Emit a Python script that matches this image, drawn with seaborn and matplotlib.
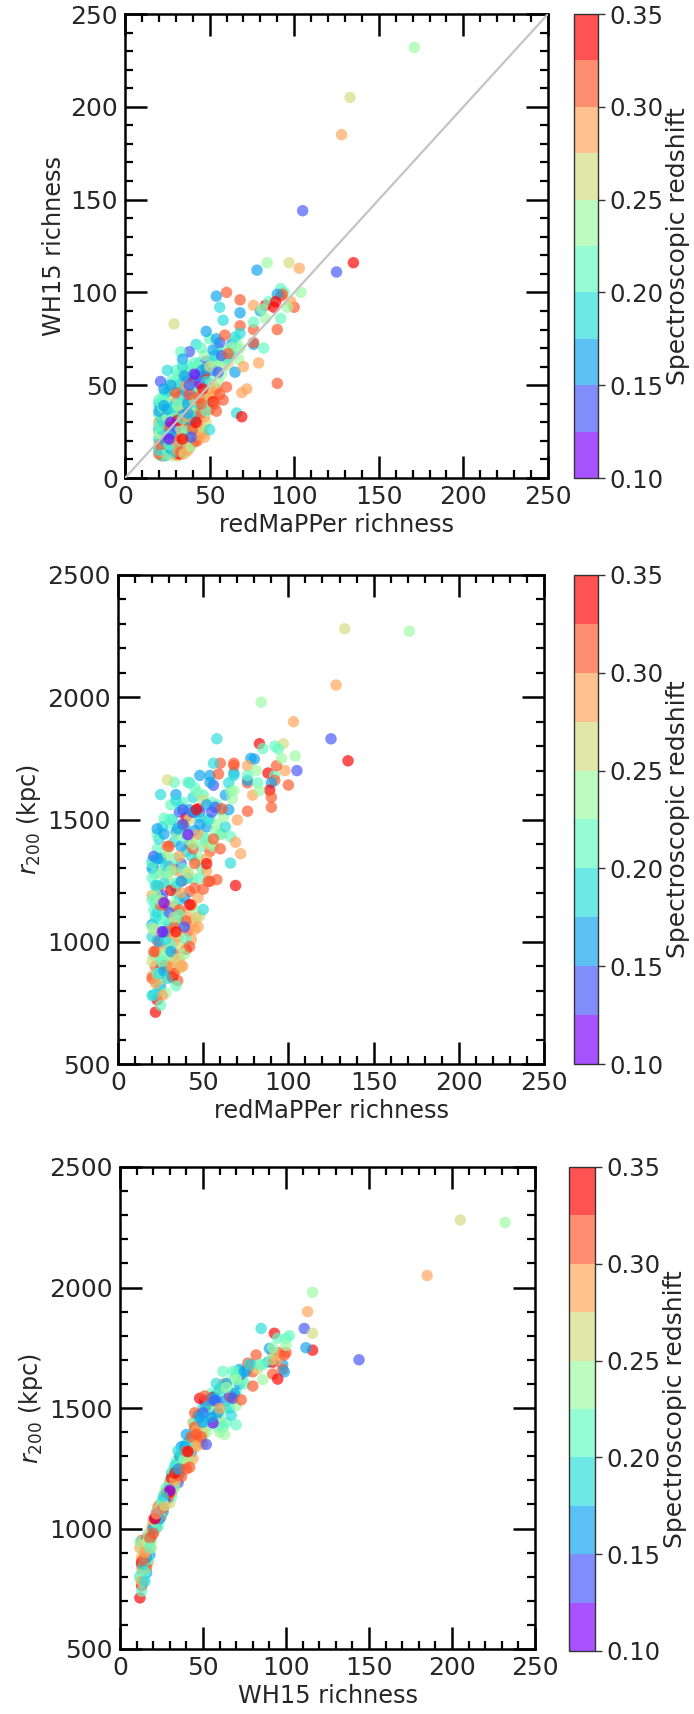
import matplotlib
matplotlib.use("Agg")
import matplotlib.pyplot as plt
import matplotlib.colors as mcolors
from matplotlib.cm import ScalarMappable
from matplotlib.ticker import MultipleLocator
import pandas as pd
import seaborn as sns

# values, one cluster per index
rm_rich = [
    22, 23, 21, 25, 20, 25, 23, 24, 26, 28,
    22, 30, 32, 35, 31, 24, 27, 34, 21, 36,
    40, 38, 20, 22, 29, 33, 37, 43, 28, 23,
    26, 31, 35, 41, 45, 46, 20, 24, 30, 37,
    27, 33, 20, 22, 25, 28, 34, 40, 44, 48,
    21, 24, 30, 36, 42, 47, 26, 20, 23, 29,
    33, 38, 44, 50, 21, 25, 30, 35, 40, 46,
    49, 20, 23, 28, 33, 37, 42, 47, 52, 24,
    29, 34, 39, 44, 49, 54, 27, 31, 36, 40,
    45, 50, 55, 31, 37, 42, 47, 52, 57, 38,
    44, 48, 54, 58, 61, 47, 55, 58, 63, 60,
    66, 42, 50, 56, 20, 22, 24, 26, 28, 30,
    32, 34, 36, 25, 27, 29, 31, 33, 35, 38,
    21, 23, 26, 28, 32, 36, 39, 20, 22, 24,
    27, 31, 34, 38, 41, 43,
    20, 23, 25, 27, 29, 31, 33, 35, 37, 39,
    21, 24, 26, 28, 30, 33, 36, 40, 42, 44,
    20, 22, 25, 27, 30, 33, 36, 40, 43, 46,
    20, 22, 25, 28, 31, 34, 37, 41, 45, 48,
    20, 22, 25, 28, 31, 34, 37, 41, 44, 47,
    20, 23, 26, 29, 32, 36, 40, 44, 48, 52,
    30, 35, 40, 44, 48, 52, 56, 60, 63, 66,
    42, 45, 50, 53, 57, 62, 38, 46, 52, 56,
    171, 133, 128, 105, 125, 135, 84, 97, 103, 78,
    54, 60, 68, 56, 68, 58, 48, 65, 68, 83,
    76, 80, 85, 92, 94, 88, 76, 81, 92, 92,
    100, 98, 93, 104, 90, 89, 90, 96, 76, 82,
    79, 72, 69, 66, 69, 60, 65, 61, 52, 45,
    38, 33, 34, 34, 25, 41, 55, 21, 38, 30,
    23, 45, 52, 54, 42, 27, 26, 37, 39, 34,
    47, 29, 41, 54, 59, 76, 68, 68, 67, 83,
    90, 76, 70, 23, 27, 35, 58, 53, 50,
]
wh_rich = [
    12, 13, 14, 16, 17, 18, 13, 12, 14, 12,
    15, 13, 15, 16, 12, 18, 14, 13, 12, 17,
    19, 16, 19, 16, 17, 19, 18, 20, 20, 22,
    23, 21, 23, 24, 25, 24, 21, 25, 24, 26,
    27, 28, 26, 29, 30, 31, 30, 28, 27, 30,
    31, 33, 33, 32, 34, 33, 35, 34, 36, 37,
    38, 36, 38, 37, 38, 40, 41, 40, 42, 41,
    42, 40, 43, 44, 45, 43, 46, 45, 44, 46,
    47, 48, 47, 49, 50, 48, 52, 53, 54, 52,
    55, 53, 52, 55, 57, 58, 56, 58, 56, 60,
    62, 63, 64, 60, 61, 66, 70, 68, 72, 65,
    74, 72, 75, 73, 13, 14, 15, 13, 15, 16,
    13, 15, 14, 20, 19, 22, 18, 24, 20, 22,
    24, 27, 29, 26, 27, 29, 31, 30, 33, 35,
    34, 36, 34, 39, 37, 40,
    15, 17, 13, 16, 14, 15, 14, 13, 15, 17,
    18, 20, 18, 22, 20, 22, 21, 23, 20, 23,
    24, 26, 28, 24, 27, 26, 25, 26, 29, 27,
    28, 31, 33, 34, 31, 32, 33, 33, 35, 36,
    36, 38, 37, 38, 39, 41, 40, 42, 43, 44,
    42, 45, 47, 49, 50, 50, 49, 51, 52, 50,
    58, 58, 59, 60, 59, 62, 63, 64, 67, 70,
    55, 58, 60, 66, 66, 70, 45, 48, 46, 45,
    232, 205, 185, 144, 111, 116, 116, 116, 113, 112,
    98, 100, 96, 92, 89, 85, 79, 76, 82, 93,
    80, 90, 95, 102, 100, 92, 93, 91, 86, 98,
    92, 95, 99, 100, 99, 95, 51, 92, 72, 70,
    62, 48, 46, 35, 33, 49, 57, 67, 69, 70,
    68, 68, 64, 60, 58, 56, 57, 52, 50, 46,
    39, 40, 41, 36, 30, 30, 21, 35, 22, 21,
    22, 83, 62, 75, 77, 84, 78, 70, 64, 86,
    80, 73, 60, 48, 50, 55, 42, 40, 26,
]
r200 = [
    712, 762, 783, 816, 860, 891, 830, 800, 850, 790,
    900, 880, 853, 841, 920, 940, 905, 950, 945, 930,
    969, 900, 920, 960, 975, 1000, 980, 1010, 1030, 1005,
    1060, 990, 1090, 1045, 1050, 1100, 1020, 1095, 1075, 1120,
    1130, 1145, 1070, 1160, 1180, 1150, 1200, 1110, 1140, 1105,
    1130, 1225, 1240, 1170, 1205, 1180, 1190, 1260, 1230, 1270,
    1295, 1250, 1260, 1215, 1305, 1340, 1310, 1290, 1370, 1330,
    1300, 1330, 1380, 1350, 1410, 1320, 1400, 1345, 1290, 1420,
    1390, 1450, 1470, 1420, 1390, 1370, 1505, 1480, 1530, 1510,
    1455, 1430, 1400, 1560, 1550, 1500, 1544, 1470, 1450, 1570,
    1590, 1530, 1500, 1480, 1440, 1610, 1570, 1560, 1600, 1540,
    1620, 1650, 1600, 1640, 850, 830, 870, 780, 905, 940,
    860, 820, 890, 980, 950, 1040, 960, 1085, 1020, 1070,
    1050, 1120, 1165, 1100, 1155, 1130, 1180, 1190, 1195, 1280,
    1240, 1300, 1225, 1300, 1285, 1350,
    780, 870, 740, 880, 850, 900, 870, 930, 900, 950,
    960, 1000, 920, 1010, 1040, 1060, 1030, 1010, 980, 1080,
    1060, 1100, 1150, 1040, 1120, 1100, 1110, 1085, 1150, 1095,
    1170, 1230, 1170, 1280, 1210, 1240, 1200, 1260, 1220, 1260,
    1300, 1280, 1340, 1310, 1290, 1340, 1390, 1280, 1380, 1440,
    1320, 1440, 1470, 1360, 1500, 1350, 1440, 1530, 1510, 1400,
    1500, 1440, 1420, 1400, 1480, 1420, 1390, 1440, 1470, 1430,
    1540, 1530, 1580, 1500, 1550, 1510, 1480, 1540, 1340, 1420,
    2270, 2280, 2050, 1700, 1830, 1740, 1980, 1810, 1900, 1750,
    1680, 1730, 1730, 1730, 1690, 1830, 1680, 1650, 1720, 1810,
    1650, 1747, 1790, 1800, 1788, 1690, 1720, 1700, 1680, 1660,
    1641, 1700, 1720, 1760, 1650, 1620, 1550, 1750, 1660, 1650,
    1600, 1360, 1407, 1322, 1230, 1380, 1540, 1544, 1560, 1630,
    1540, 1652, 1602, 1578, 1602, 1438, 1530, 1349, 1480, 1390,
    1340, 1320, 1319, 1247, 1152, 1159, 1041, 1247, 1060, 1041,
    1061, 1662, 1652, 1652, 1686, 1680, 1680, 1618, 1585, 1618,
    1591, 1534, 1498, 1462, 1441, 1462, 1254, 1247, 1132,
]
spec_z = [
    .34, .335, .18, .17, .29, .16, .2, .19, .27, .23,
    .3, .28, .33, .32, .29, .21, .24, .3, .22, .28,
    .335, .285, .26, .3, .2, .29, .27, .28, .24, .31,
    .2, .22, .3, .31, .29, .275, .18, .22, .19, .26,
    .24, .3, .16, .2, .17, .315, .22, .29, .23, .26,
    .21, .3, .23, .19, .3, .28, .135, .2, .19, .25,
    .18, .31, .24, .31, .17, .2, .16, .29, .19, .27,
    .22, .19, .22, .27, .175, .135, .3, .23, .285, .19,
    .32, .16, .15, .27, .2, .3, .2, .22, .13, .33,
    .16, .21, .23, .21, .175, .26, .335, .15, .24, .2,
    .18, .13, .22, .23, .27, .225, .2, .21, .16, .19,
    .235, .19, .2, .14, .3, .28, .15, .29, .31, .24,
    .33, .2, .27, .28, .23, .31, .16, .21, .29, .22,
    .27, .19, .31, .2, .24, .3, .17, .28, .23, .27,
    .18, .29, .16, .21, .24, .19,
    .19, .2, .21, .17, .18, .29, .3, .27, .29, .24,
    .31, .16, .22, .18, .29, .31, .26, .2, .3, .28,
    .23, .19, .3, .17, .13, .26, .22, .3, .31, .27,
    .2, .18, .23, .2, .33, .21, .28, .19, .3, .21,
    .16, .21, .15, .19, .24, .2, .17, .26, .32, .29,
    .22, .2, .18, .23, .19, .28, .22, .12, .18, .25,
    .2, .23, .21, .24, .17, .2, .23, .21, .18, .2,
    .15, .16, .27, .19, .14, .23, .3, .33, .29, .3,
    .225, .255, .29, .14, .13, .34, .24, .26, .285, .17,
    .16, .31, .315, .18, .16, .19, .16, .19, .31, .335,
    .31, .17, .21, .21, .22, .33, .285, .23, .22, .32,
    .315, .29, .305, .23, .16, .33, .32, .23, .16, .22,
    .28, .29, .29, .18, .33, .3, .17, .32, .16, .2,
    .13, .22, .17, .18, .18, .11, .14, .13, .14, .31,
    .16, .31, .33, .32, .34, .11, .105, .16, .13, .335,
    .29, .255, .22, .16, .3, .2, .19, .23, .24, .24,
    .31, .31, .285, .17, .16, .17, .3, .32, .18,
]
z_ticks = [0.10, 0.15, 0.20, 0.25, 0.30, 0.35]
z_bins = [0.10, 0.125, 0.15, 0.175, 0.20, 0.225, 0.25, 0.275, 0.30, 0.325, 0.35]

W, H = 694, 1714
ALPHA = 0.68
FS_TICK = 18
FS_CBTICK = 17.5
FS_LABEL = 17.3
FS_CBAR = 18

sns.set_theme(style="ticks")
plt.rcParams["font.family"] = "DejaVu Sans"
plt.rcParams["mathtext.fontset"] = "dejavusans"

df = pd.DataFrame({"rm": rm_rich, "wh": wh_rich, "r200": r200, "z": spec_z})
cmap = plt.get_cmap("rainbow", 10)
norm = mcolors.BoundaryNorm(z_bins, 10)


def px_axes(fig, left, top, right, bottom):
    return fig.add_axes([left / W, 1 - bottom / H, (right - left) / W, (bottom - top) / H])


def panel(fig, box, cbox, xcol, ycol, xlabel, ylabel, ymax, ymin, ymajor, yminor):
    ax = px_axes(fig, *box)
    sns.scatterplot(data=df, x=xcol, y=ycol, hue="z", palette=cmap, hue_norm=norm,
                    s=68, alpha=ALPHA, linewidth=0, legend=False, ax=ax, zorder=3)
    ax.set_xlim(0, 250)
    ax.set_ylim(ymin, ymax)
    ax.xaxis.set_major_locator(MultipleLocator(50))
    ax.xaxis.set_minor_locator(MultipleLocator(10))
    ax.yaxis.set_major_locator(MultipleLocator(ymajor))
    ax.yaxis.set_minor_locator(MultipleLocator(yminor))
    ax.tick_params(which="major", direction="in", length=16, width=1.8, top=True, right=True,
                   labelsize=FS_TICK, pad=5)
    ax.tick_params(which="minor", direction="in", length=5.5, width=1.6, top=True, right=True)
    for sp in ax.spines.values():
        sp.set_linewidth(1.8)
        sp.set_color("black")
    ax.tick_params(which="both", color="black")
    ax.set_xlabel(xlabel, fontsize=FS_LABEL, labelpad=3)
    ax.set_ylabel(ylabel, fontsize=FS_LABEL, labelpad=3)

    cax = px_axes(fig, *cbox)
    cb = fig.colorbar(ScalarMappable(norm=norm, cmap=cmap), cax=cax, ticks=z_ticks,
                      alpha=ALPHA, spacing="proportional", format="%.2f")
    cb.ax.minorticks_off()
    cb.ax.tick_params(labelsize=FS_CBTICK, length=5, width=1, color="#333333", pad=3)
    cb.outline.set_linewidth(1.0)
    cb.outline.set_edgecolor("#333333")
    cb.set_label("Spectroscopic redshift", fontsize=FS_CBAR, labelpad=2)
    return ax


fig = plt.figure(figsize=(W / 100, H / 100), dpi=100, facecolor="white")

ax1 = panel(fig, (125, 14, 548, 478), (574, 14, 598, 478), "rm", "wh",
            "redMaPPer richness", "WH15 richness", 250, 0, 50, 10)
ax1.plot([0, 250], [0, 250], color="#c4c4c4", linewidth=1.6, zorder=4)

panel(fig, (118, 575, 544, 1064), (574, 575, 598, 1064), "rm", "r200",
      "redMaPPer richness", r"$r_{200}$ (kpc)", 2500, 500, 500, 100)

panel(fig, (120, 1167, 535, 1649), (569, 1167, 595, 1651), "wh", "r200",
      "WH15 richness", r"$r_{200}$ (kpc)", 2500, 500, 500, 100)

fig.savefig("out.png", dpi=100, facecolor="white")
plt.close(fig)
